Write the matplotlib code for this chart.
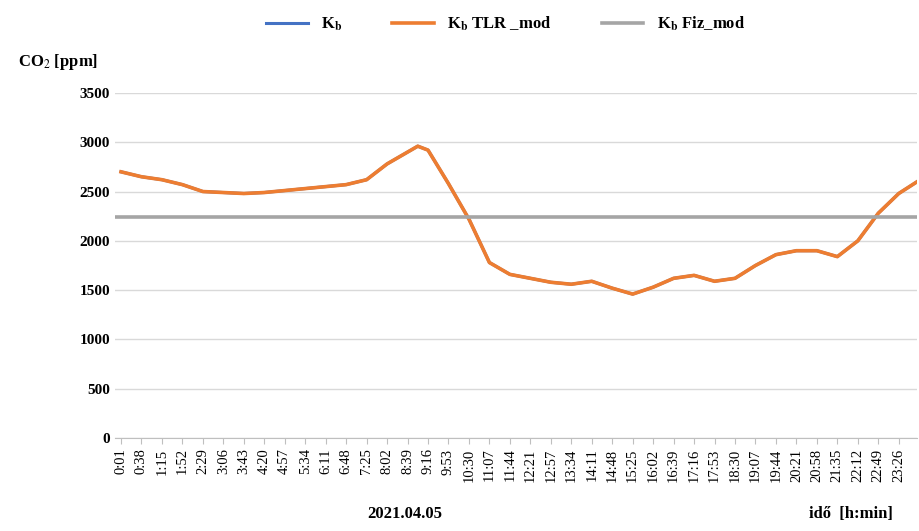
import numpy as np
import matplotlib.pyplot as plt

plt.rcParams['font.family'] = ['Liberation Serif', 'DejaVu Serif']
plt.rcParams['mathtext.fontset'] = 'stix'

time_labels = ['0:01', '0:38', '1:15', '1:52', '2:29', '3:06', '3:43', '4:20', '4:57', '5:34',
               '6:11', '6:48', '7:25', '8:02', '8:39', '9:16', '9:53', '10:30', '11:07', '11:44',
               '12:21', '12:57', '13:34', '14:11', '14:48', '15:25', '16:02', '16:39', '17:16', '17:53',
               '18:30', '19:07', '19:44', '20:21', '20:58', '21:35', '22:12', '22:49', '23:26']
# position (in tick steps) and CO2 values
pos = [0, 1, 2, 3, 4, 5, 6, 7, 8, 9, 10, 11, 12, 13, 14, 14.5, 15, 16, 17, 18, 19,
       20, 21, 22, 23, 24, 25, 26, 27, 28, 29, 30, 31, 32, 33, 34, 35, 36, 37, 38, 38.9]
kb_tlr = [2700, 2650, 2620, 2570, 2500, 2490, 2480, 2490, 2510, 2530, 2550, 2570, 2620,
          2780, 2900, 2960, 2920, 2580, 2220, 1780, 1660, 1620, 1580, 1560, 1590, 1520, 1460,
          1530, 1620, 1650, 1590, 1620, 1750, 1860, 1900, 1900, 1840, 2000, 2280, 2480, 2600]
kb_fiz = 2240

fig, ax = plt.subplots(figsize=(9.19, 5.31), dpi=100)
fig.subplots_adjust(left=0.125, right=0.998, top=0.825, bottom=0.175)

ax.plot(pos, kb_tlr, color='#4472c4', lw=2.2, label='K$_\\mathbf{b}$')
ax.plot(pos, kb_tlr, color='#ed7d31', lw=2.6, label='K$_\\mathbf{b}$ TLR _mod')
ax.plot([-0.5, 39], [kb_fiz, kb_fiz], color='#a5a5a5', lw=2.6, label='K$_\\mathbf{b}$ Fiz_mod')

ax.set_xlim(-0.3, 38.9)
ax.set_ylim(0, 3500)
ax.set_yticks(range(0, 3501, 500))
ax.set_xticks(range(len(time_labels)))
ax.set_xticklabels(time_labels, rotation=90, fontsize=10.5)
ax.tick_params(axis='y', labelsize=11, length=0)
ax.tick_params(axis='x', length=4, color='#bfbfbf')
for lbl in ax.get_yticklabels():
    lbl.set_fontweight('bold')
ax.grid(axis='y', color='#d9d9d9', lw=1)
ax.set_axisbelow(True)
for s in ['top', 'right']:
    ax.spines[s].set_visible(False)
ax.spines['left'].set_visible(False)
ax.spines['bottom'].set_color('#bfbfbf')

fig.text(0.02, 0.875, 'CO$_2$ [ppm]', fontsize=12, fontweight='bold')
fig.text(0.40, 0.025, '2021.04.05', fontsize=12, fontweight='bold')
fig.text(0.88, 0.025, 'idő  [h:min]', fontsize=12, fontweight='bold')
fig.legend(loc='upper center', bbox_to_anchor=(0.55, 1.0), ncol=3, frameon=False,
           prop={'size': 12, 'weight': 'bold'}, handlelength=2.5, columnspacing=3)

plt.savefig('out.png')
